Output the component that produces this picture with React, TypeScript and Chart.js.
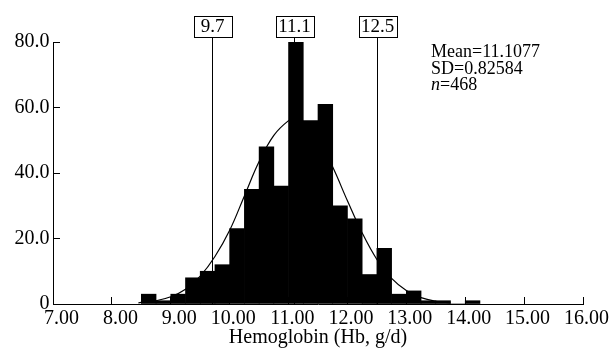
import React, { useEffect, useRef } from "react";
import { Chart, registerables } from "chart.js";

Chart.register(...registerables);

// Histogram bins (centres, width 0.25 g/dl) and counts
const binCenters = [
  8.625, 8.875, 9.125, 9.375, 9.625, 9.875, 10.125, 10.375, 10.625, 10.875,
  11.125, 11.375, 11.625, 11.875, 12.125, 12.375, 12.625, 12.875, 13.125,
  13.375, 13.625, 13.875, 14.125,
];
const counts = [
  3, 1, 3, 8, 10, 12, 23, 35, 48, 36, 80, 56, 61, 30, 26, 9, 17, 3, 4, 1, 1, 0, 1,
];

// Fitted normal curve
const curveX = [
  8.45, 8.75, 9.0, 9.25, 9.5, 9.75, 10.0, 10.25, 10.5, 10.75, 11.0, 11.1, 11.25,
  11.5, 11.75, 12.0, 12.25, 12.5, 12.75, 13.0, 13.25, 13.5, 13.75,
];
const curveY = [
  0.35, 1.0, 2.2, 4.5, 8.5, 14.5, 22.5, 33, 43.5, 51.5, 56, 56.5, 55.7, 50.5,
  41.8, 31.5, 21.7, 13.6, 7.8, 4.1, 1.95, 0.85, 0.35,
];

// Reference lines and their boxed labels
const refValues = [9.7, 11.1, 12.5];
const refLabels = ["9.7", "11.1", "12.5"];

// Statistics text
const statMean = "Mean=11.1077";
const statSD = "SD=0.82584";
const statN = "468";

const xTitle = "Hemoglobin (Hb, g/d)";
const xMin = 7;
const xMax = 16;
const yMin = 0;
const yMax = 80;

const SERIF = '"Liberation Serif", "Times New Roman", Times, serif';

export default function App() {
  const canvasRef = useRef<HTMLCanvasElement | null>(null);

  useEffect(() => {
    if (!canvasRef.current) return;

    const annotPlugin = {
      id: "annot",
      beforeDatasetsDraw(chart: any) {
        const { ctx, scales, chartArea } = chart;
        const x = scales.x;
        const y = scales.y;
        const boxBottom = chartArea.top - 5;
        ctx.save();
        ctx.strokeStyle = "#000";
        ctx.lineWidth = 1;
        refValues.forEach((v) => {
          const px = Math.round(x.getPixelForValue(v)) + 0.5;
          ctx.beginPath();
          ctx.moveTo(px, boxBottom);
          ctx.lineTo(px, y.getPixelForValue(0));
          ctx.stroke();
        });
        ctx.restore();
      },
      afterDraw(chart: any) {
        const { ctx, scales, chartArea } = chart;
        const x = scales.x;
        ctx.save();
        // boxed labels
        const boxH = 21;
        const boxW = 38;
        const boxTop = chartArea.top - 26;
        ctx.font = `19px ${SERIF}`;
        ctx.textAlign = "center";
        ctx.textBaseline = "middle";
        refValues.forEach((v, i) => {
          const px = Math.round(x.getPixelForValue(v)) + 0.5;
          const left = Math.round(px - boxW / 2) + 0.5;
          ctx.fillStyle = "#fff";
          ctx.fillRect(left, Math.round(boxTop) + 0.5, boxW, boxH);
          ctx.strokeStyle = "#000";
          ctx.lineWidth = 1;
          ctx.strokeRect(left, Math.round(boxTop) + 0.5, boxW, boxH);
          ctx.fillStyle = "#000";
          ctx.fillText(refLabels[i], px, boxTop + boxH / 2 + 1);
        });
        // statistics
        const sx = chartArea.right - 152;
        ctx.textAlign = "left";
        ctx.textBaseline = "alphabetic";
        ctx.fillStyle = "#000";
        ctx.font = `18px ${SERIF}`;
        ctx.fillText(statMean, sx, chartArea.top + 15);
        ctx.fillText(statSD, sx, chartArea.top + 31.5);
        ctx.font = `italic 18px ${SERIF}`;
        ctx.fillText("n", sx, chartArea.top + 48);
        const nw = ctx.measureText("n").width;
        ctx.font = `18px ${SERIF}`;
        ctx.fillText("=" + statN, sx + nw, chartArea.top + 48);
        ctx.restore();
      },
    };

    const chart = new Chart(canvasRef.current, {
      type: "bar",
      data: {
        datasets: [
          {
            type: "line",
            data: curveX.map((v, i) => ({ x: v, y: curveY[i] })),
            borderColor: "#000",
            borderWidth: 1.2,
            pointRadius: 0,
            fill: false,
            tension: 0.4,
            order: 0,
          } as any,
          {
            type: "bar",
            data: binCenters.map((v, i) => ({ x: v, y: counts[i] })),
            backgroundColor: "#000",
            borderWidth: 0,
            barPercentage: 1,
            categoryPercentage: 1,
            order: 1,
          } as any,
        ],
      },
      options: {
        responsive: true,
        maintainAspectRatio: false,
        animation: false,
        layout: { padding: { left: 0, right: 31, top: 42, bottom: 0 } },
        plugins: {
          legend: { display: false },
          tooltip: { enabled: false },
        },
        scales: {
          x: {
            type: "linear",
            min: xMin,
            max: xMax,
            offset: false,
            grid: {
              offset: false,
              display: true,
              drawOnChartArea: false,
              drawTicks: true,
              tickLength: -7,
              color: "#000",
              lineWidth: 1,
            },
            border: { display: true, color: "#000", width: 1 },
            ticks: {
              stepSize: 1,
              autoSkip: false,
              maxRotation: 0,
              align: "end",
              labelOffset: 26,
              padding: 9.5,
              color: "#000",
              font: { family: SERIF, size: 20 },
              callback: (v: any) => Number(v).toFixed(2),
            },
            title: {
              display: true,
              text: xTitle,
              color: "#000",
              font: { family: SERIF, size: 20 },
              padding: { top: 0, bottom: 7 },
            },
            afterFit: (scale: any) => {
              scale.height = 53;
            },
          },
          y: {
            type: "linear",
            min: yMin,
            max: yMax,
            grid: {
              display: true,
              drawOnChartArea: false,
              drawTicks: true,
              tickLength: -7,
              color: "#000",
              lineWidth: 1,
            },
            border: { display: true, color: "#000", width: 1 },
            ticks: {
              stepSize: 20,
              padding: 10.5,
              color: "#000",
              font: { family: SERIF, size: 20 },
              callback: (v: any) => (Number(v) === 0 ? "0" : Number(v).toFixed(1)),
            },
            afterFit: (scale: any) => {
              scale.width = 53;
            },
          },
        },
      } as any,
      plugins: [annotPlugin],
    });

    return () => {
      chart.destroy();
    };
  }, []);

  return (
    <div style={{ position: "fixed", left: 0, top: 0, width: 614, height: 357 }}>
      <canvas ref={canvasRef} />
    </div>
  );
}
